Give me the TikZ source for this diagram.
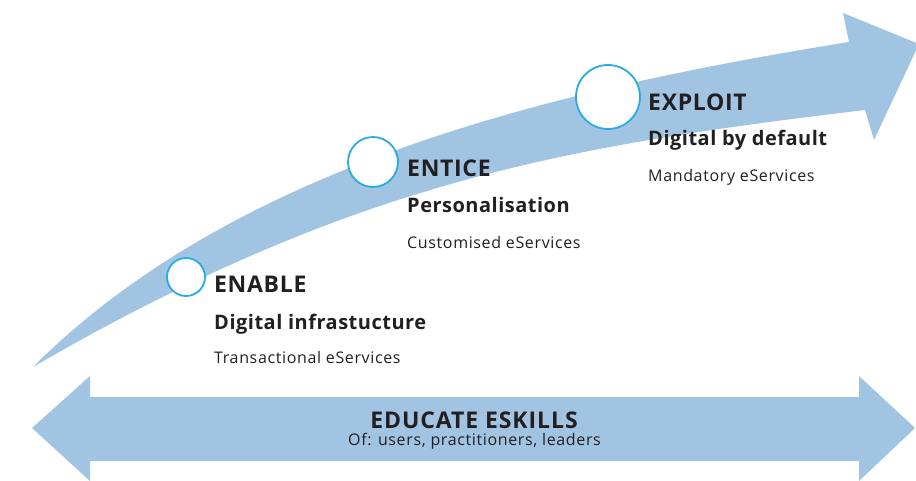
\documentclass[tikz,border=0pt]{standalone}
\usepackage{fontspec}
\setmainfont{Open Sans}
\definecolor{band}{HTML}{A1C4E2}
\definecolor{ring}{HTML}{29ABE2}
\definecolor{ink}{HTML}{231F20}
\begin{document}
\begin{tikzpicture}[x=1pt,y=-1pt,
  circ/.style={circle,draw=ring,line width=1.8pt,fill=white,inner sep=0pt},
  ttl/.style={anchor=base west,inner sep=0pt,text=ink,font=\fontsize{23}{25}\selectfont\bfseries\addfontfeatures{LetterSpace=3}},
  sub/.style={anchor=base west,inner sep=0pt,text=ink,font=\fontsize{20}{22}\selectfont\bfseries\addfontfeatures{LetterSpace=2.5}},
  desc/.style={anchor=base west,inner sep=0pt,text=ink,font=\fontsize{16}{18}\selectfont\addfontfeatures{LetterSpace=4}},
]
\useasboundingbox (0,0) rectangle (916,480);
\begin{scope}
\clip (0,0) rectangle (916,480);
% curved arrow
\fill[band] (33,367) .. controls (233,167) and (549,90) .. (849,42)
  -- (843,13) -- (919,44) -- (874,140) -- (865,110)
  .. controls (565,146) and (353,181.4) .. (33,367) -- cycle;
% double arrow
\fill[band] (32,428) -- (90,376) -- (90,397) -- (859,397) -- (859,376)
  -- (915,428) -- (859,481) -- (859,461) -- (90,461) -- (90,481) -- cycle;
\end{scope}
% circles
\node[circ,minimum size=38pt] (c1) at (186,277) {};
\node[circ,minimum size=50pt] (c2) at (373,162) {};
\node[circ,minimum size=64pt] (c3) at (608,97) {};
% texts
\node[ttl] (t1) at (214,292) {ENABLE};
\node[sub] (s1) at (214,329) {Digital infrastucture};
\node[desc] (d1) at (214,363) {Transactional eServices};
\node[ttl] (t2) at (407,176) {ENTICE};
\node[sub] (s2) at (407,212) {Personalisation};
\node[desc] (d2) at (407,248) {Customised eServices};
\node[ttl] (t3) at (648,110) {EXPLOIT};
\node[sub] (s3) at (648,145) {Digital by default};
\node[desc] (d3) at (648,181) {Mandatory eServices};
\node[anchor=base,inner sep=0pt,text=ink,font=\fontsize{23}{25}\selectfont\bfseries\addfontfeatures{LetterSpace=4}] (e1) at (474,428) {EDUCATE ESKILLS};
\node[desc,anchor=base] (e2) at (474.5,445) {Of: users, practitioners, leaders};
\end{tikzpicture}
\end{document}
